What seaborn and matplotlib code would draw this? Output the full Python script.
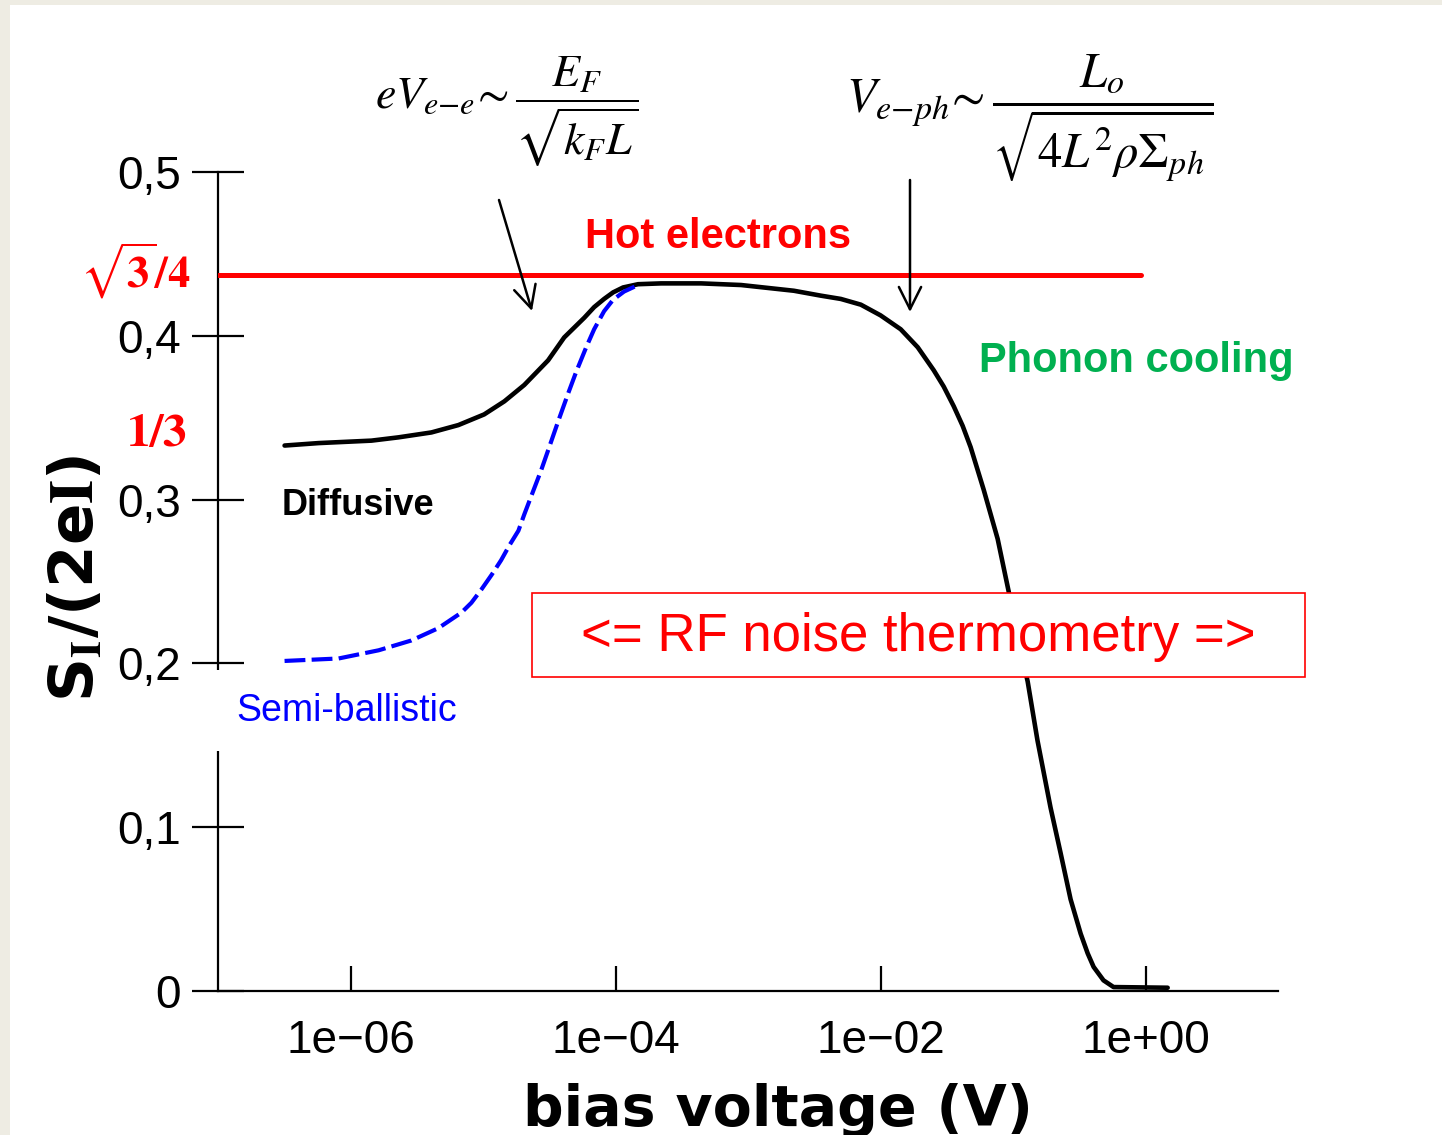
import matplotlib
matplotlib.use('Agg')
import matplotlib.pyplot as plt
from matplotlib.patches import Rectangle, FancyArrowPatch
from matplotlib.ticker import NullLocator
import seaborn as sns

# values: bias voltage (V) and S_I/(2eI)
diffusive_v = [3.18e-7, 5.74e-7, 1.44e-6, 2.30e-6, 4.08e-6, 6.52e-6, 1.02e-5,
               1.45e-5, 2.05e-5, 3.10e-5, 4.10e-5, 4.88e-5, 5.81e-5, 6.90e-5,
               8.20e-5, 9.59e-5, 1.14e-4, 1.48e-4, 2.21e-4, 4.43e-4, 8.86e-4,
               2.22e-3, 3.55e-3, 5.02e-3, 7.11e-3, 1.00e-2, 1.42e-2, 1.91e-2,
               2.52e-2, 3.00e-2, 3.57e-2, 4.17e-2, 4.79e-2, 6.01e-2, 7.66e-2,
               9.27e-2, 0.108, 0.129, 0.153, 0.192, 0.229, 0.272, 0.324,
               0.366, 0.406, 0.482, 0.574, 1.47]
diffusive_s = [0.333, 0.3345, 0.336, 0.338, 0.341, 0.3455, 0.352,
               0.360, 0.370, 0.385, 0.399, 0.405, 0.411, 0.4175,
               0.4225, 0.4265, 0.4295, 0.4315, 0.432, 0.432, 0.431,
               0.4275, 0.4245, 0.4225, 0.419, 0.4125, 0.404, 0.393,
               0.379, 0.369, 0.357, 0.345, 0.332, 0.306, 0.276,
               0.244, 0.216, 0.189, 0.153, 0.112, 0.084, 0.056, 0.035,
               0.023, 0.0147, 0.0065, 0.0024, 0.002]

ballistic_v = [3.18e-7, 8.13e-7, 1.63e-6, 2.88e-6, 4.60e-6, 6.87e-6, 8.17e-6,
               9.70e-6, 1.16e-5, 1.37e-5, 1.58e-5, 1.85e-5, 2.05e-5, 2.31e-5,
               2.75e-5, 3.16e-5, 3.70e-5, 4.40e-5, 5.05e-5, 6.01e-5, 6.90e-5,
               8.20e-5, 9.59e-5, 1.16e-4, 1.48e-4]
ballistic_s = [0.2015, 0.203, 0.208, 0.214, 0.2215, 0.231, 0.237,
               0.245, 0.254, 0.263, 0.272, 0.281, 0.291, 0.302,
               0.318, 0.332, 0.348, 0.365, 0.378, 0.393, 0.404,
               0.415, 0.422, 0.427, 0.431]

hot_v = [1e-7, 0.92]
hot_s = [0.437, 0.437]

x_ticks = [1e-6, 1e-4, 1e-2, 1e0]
x_ticklabels = ['1e\u221206', '1e\u221204', '1e\u221202', '1e+00']
y_ticks = [0, 0.1, 0.2, 0.3, 0.4, 0.5]
y_ticklabels = ['0', '0,1', '0,2', '0,3', '0,4', '0,5']

sns.set_style('white')
plt.rcParams['font.family'] = ['Liberation Sans', 'DejaVu Sans']
plt.rcParams['mathtext.fontset'] = 'stix'
for key in ['text.color', 'axes.labelcolor', 'xtick.color', 'ytick.color']:
    plt.rcParams[key] = 'black'

fig = plt.figure(figsize=(14.42, 11.35), dpi=100, facecolor='#eeece3')
# white slide area
fig.add_artist(Rectangle((10 / 1442, 0), 1, 1 - 5 / 1135, transform=fig.transFigure,
                         facecolor='white', edgecolor='none', zorder=-1))

ax = fig.add_axes([218 / 1442, 1 - 991 / 1135, 1060 / 1442, 819 / 1135])
ax.set_facecolor('none')
ax.set_xscale('log')

sns.lineplot(x=diffusive_v, y=diffusive_s, ax=ax, color='black', lw=3.3, zorder=3)
sns.lineplot(x=ballistic_v, y=ballistic_s, ax=ax, color='#0000ff', lw=3.0,
             linestyle=(0, (5, 1.5)), zorder=4)
sns.lineplot(x=hot_v, y=hot_s, ax=ax, color='#ff0000', lw=3.6, zorder=3)

ax.set_xlim(1e-7, 10)
ax.set_ylim(0, 0.5)
sns.despine(ax=ax)
for side in ['left', 'bottom']:
    ax.spines[side].set_linewidth(1.6)
    ax.spines[side].set_color('black')

ax.set_xticks(x_ticks)
ax.set_xticklabels(x_ticklabels)
ax.xaxis.set_minor_locator(NullLocator())
ax.set_yticks(y_ticks)
ax.set_yticklabels(y_ticklabels)
ax.tick_params(axis='x', bottom=True, direction='in', length=18, width=1.6, pad=20,
               labelsize=33)
ax.tick_params(axis='y', left=True, direction='inout', length=37, width=1.6, pad=8,
               labelsize=33)

ax.set_xlabel('bias voltage (V)', fontsize=41, fontweight='bold',
              family='DejaVu Sans', va='top')
ax.xaxis.set_label_coords(0.528, -0.112)
ax.set_ylabel(r'S$_\mathbf{I}$/(2e$\mathbf{I}$)', fontsize=44, fontweight='bold',
              family='DejaVu Sans', va='center')
ax.yaxis.set_label_coords(-0.133, 0.504)

# level labels
ytr = ax.get_yaxis_transform()
ax.text(-0.026, 0.440, r'$\mathbf{\sqrt{3}/4}$', transform=ytr, color='#ff0000',
        fontsize=32, ha='right', va='center', clip_on=False)
ax.text(-0.029, 0.340, r'$\mathbf{1/3}$', transform=ytr, color='#ff0000',
        fontsize=34, ha='right', va='center', clip_on=False)

# annotations
fig.text(0.498, 0.791, 'Hot electrons', color='#ff0000', fontsize=30,
         fontweight='bold', ha='center', va='center')
fig.text(0.788, 0.682, 'Phonon cooling', color='#00b050', fontsize=30,
         fontweight='bold', ha='center', va='center')
fig.text(0.195, 0.555, 'Diffusive', color='black', fontsize=26,
         fontweight='bold', ha='left', va='center')
fig.text(0.164, 0.3737, 'Semi-ballistic', color='#0000ff', fontsize=27,
         ha='left', va='center',
         bbox=dict(boxstyle='square,pad=0.6', facecolor='white', edgecolor='none'))

fig.add_artist(Rectangle((532 / 1442, 1 - 677 / 1135), 773 / 1442, 84 / 1135,
                         transform=fig.transFigure, facecolor='white',
                         edgecolor='#ff0000', lw=1.2, zorder=3))
fig.text(0.637, 0.4388, '<= RF noise thermometry =>', color='#ff0000',
         fontsize=38, ha='center', va='center', zorder=4)

fig.text(0.3516, 0.902, r'$eV_{e{-}e}\!\sim\dfrac{E_F}{\sqrt{k_F L}}$', fontsize=33,
         ha='center', va='center')
fig.text(0.714, 0.896, r'$V_{e{-}ph}\!\sim\dfrac{L_o}{\sqrt{4L^2\rho\Sigma_{ph}}}$',
         fontsize=35, ha='center', va='center')

for start, end in [((499, 200), (532, 311)), ((910, 180), (910, 312))]:
    fig.add_artist(FancyArrowPatch((start[0] / 1442, 1 - start[1] / 1135),
                                   (end[0] / 1442, 1 - end[1] / 1135),
                                   transform=fig.transFigure, arrowstyle='->',
                                   mutation_scale=40, lw=1.8, color='black',
                                   shrinkA=0, shrinkB=0, zorder=5))

fig.savefig('out.png', dpi=100, facecolor=fig.get_facecolor())
